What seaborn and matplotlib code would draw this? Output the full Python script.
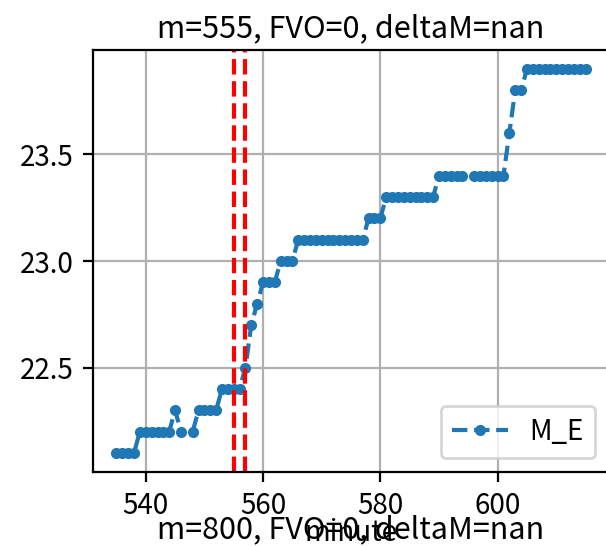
import matplotlib

matplotlib.use("Agg")

import matplotlib.pyplot as plt
import seaborn as sns
import numpy as np
import pandas as pd

# minute index and M_E values (nan = missing minute)
minutes = list(range(535, 616))
m_e = (
    [22.1] * 4            # 535-538
    + [22.2] * 6          # 539-544
    + [22.3, 22.2, np.nan, 22.2]   # 545-548
    + [22.3] * 4          # 549-552
    + [22.4] * 4          # 553-556
    + [22.5, 22.7, 22.8]  # 557-559
    + [22.9] * 3          # 560-562
    + [23.0] * 3          # 563-565
    + [23.1] * 12         # 566-577
    + [23.2] * 3          # 578-580
    + [23.3] * 9          # 581-589
    + [23.4] * 5          # 590-594
    + [np.nan]            # 595
    + [23.4] * 6          # 596-601
    + [23.6, 23.8, 23.8]  # 602-604
    + [23.9] * 11         # 605-615
)
event_minutes = [555, 557]

title_top = "m=555, FVO=0, deltaM=nan"
title_bottom = "m=800, FVO=0, deltaM=nan"

df = pd.DataFrame({"minute": minutes, "M_E": m_e})

# nan breaks the line, so give every unbroken run its own unit id
df["run"] = df["M_E"].isna().cumsum()
df = df.dropna()

plt.rcParams["font.family"] = ["Noto Sans CJK SC", "DejaVu Sans"]

fig = plt.figure(figsize=(6.06 / 2, 5.47 / 2), dpi=200)
ax = fig.add_axes([93 / 606, 75 / 547, 516 / 606, 422 / 547])

sns.lineplot(
    data=df,
    x="minute",
    y="M_E",
    units="run",
    estimator=None,
    ax=ax,
    color="#1f77b4",
    linestyle="--",
    marker=".",
    markersize=6,
    markeredgecolor="#1f77b4",
    markeredgewidth=1.0,
    linewidth=1.5,
    label="M_E"
)

# red dashed event lines
for xm in event_minutes:
    ax.axvline(xm, color="red", linestyle="--", linewidth=1.5)

ax.grid(True, color="#b0b0b0", linewidth=0.8)
ax.set_axisbelow(True)

ax.set_title(title_top, fontsize=11, pad=4.7)
ax.set_xlabel("minute", fontsize=10)
ax.set_ylabel("")
ax.xaxis.label.set_verticalalignment("baseline")
ax.xaxis.set_label_coords(0.5, -0.1635)
ax.tick_params(labelsize=10)

# one legend entry, not one per run
handles, labels = ax.get_legend_handles_labels()
ax.legend(handles[:1], labels[:1], loc="lower right", fontsize=10)

fig.text(351 / 606, 9 / 547, title_bottom, ha="center", va="baseline", fontsize=11)

fig.savefig("out.png", dpi=200)
plt.close()
